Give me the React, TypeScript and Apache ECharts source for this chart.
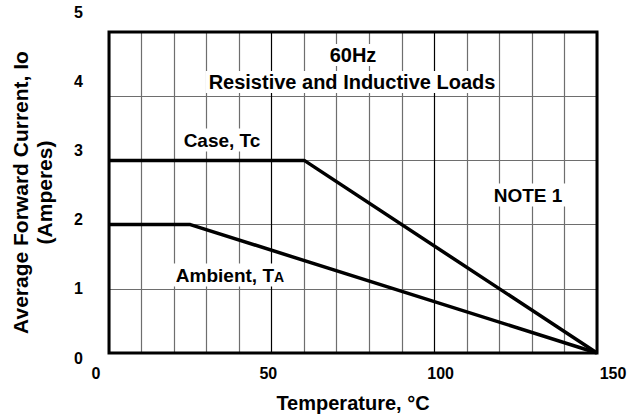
import React, { useEffect, useRef } from "react";
import * as echarts from "echarts";

const FONT = "'Liberation Sans', Arial, Helvetica, sans-serif";

// Data
const caseCurve: [number, number][] = [[0, 3], [60, 3], [150, 0]];
const ambientCurve: [number, number][] = [[0, 2], [25, 2], [150, 0]];
const xTickLabels = [0, 50, 100, 150];
const yTickLabels = [0, 1, 2, 3, 4, 5];
const xTitle = "Temperature, °C";
const yTitle = "Average Forward Current, Io\n(Amperes)";

export default function App() {
  const ref = useRef<HTMLDivElement>(null);
  useEffect(() => {
    if (!ref.current) return;
    const chart = echarts.init(ref.current, undefined, { renderer: "svg" });
    const grayLine = "#6e6e6e";
    const option: any = {
      animation: false,
      backgroundColor: "#fff",
      grid: [
        { left: 108, right: 33, top: 32, bottom: 60, show: true, borderColor: "#000", borderWidth: 3, backgroundColor: "transparent", z: 5 },
        { left: 96, right: 17, top: 12, bottom: 60 },
      ],
      xAxis: [
        {
          type: "value", gridIndex: 0, min: 0, max: 150, interval: 10,
          axisLine: { show: false }, axisTick: { show: false }, axisLabel: { show: false },
          splitLine: { show: true, lineStyle: { color: ["#000", grayLine, grayLine, grayLine, grayLine], width: 1.2 } },
          name: xTitle, nameLocation: "middle", nameGap: 40,
          nameTextStyle: { fontFamily: FONT, fontWeight: "bold", fontSize: 20, color: "#000" },
        },
        {
          type: "value", gridIndex: 1, min: 0, max: 150, interval: 50,
          axisLine: { show: false }, axisTick: { show: false }, splitLine: { show: false },
          axisLabel: {
            show: true, margin: 7, fontFamily: FONT, fontWeight: "bold", fontSize: 16, color: "#000",
            formatter: (v: number) => (xTickLabels.includes(v) ? String(v) : ""),
          },
        },
      ],
      yAxis: [
        {
          type: "value", gridIndex: 0, min: 0, max: 5, interval: 1,
          axisLine: { show: false }, axisTick: { show: false }, axisLabel: { show: false },
          splitLine: { show: true, lineStyle: { color: grayLine, width: 1.2 } },
          name: yTitle, nameLocation: "middle", nameGap: 53, nameRotate: 90,
          nameTextStyle: { fontFamily: FONT, fontWeight: "bold", fontSize: 21, color: "#000", lineHeight: 24, align: "center" },
        },
        {
          type: "value", gridIndex: 1, min: 0, max: 5, interval: 1,
          axisLine: { show: false }, axisTick: { show: false }, splitLine: { show: false },
          axisLabel: {
            show: true, margin: 13, fontFamily: FONT, fontWeight: "bold", fontSize: 16, color: "#000",
            formatter: (v: number) => (yTickLabels.includes(v) ? String(v) : ""),
          },
        },
      ],
      series: [
        {
          name: "Case, Tc", type: "line", xAxisIndex: 0, yAxisIndex: 0, data: caseCurve,
          showSymbol: false, symbol: "none", lineStyle: { color: "#000", width: 3.5 }, z: 6,
        },
        {
          name: "Ambient, TA", type: "line", xAxisIndex: 0, yAxisIndex: 0, data: ambientCurve,
          showSymbol: false, symbol: "none", lineStyle: { color: "#000", width: 3.5 }, z: 6,
        },
      ],
      graphic: [
        {
          type: "text", x: 353, y: 55, z: 10,
          style: { text: "60Hz", font: `bold 20px ${FONT}`, fill: "#000", align: "center", verticalAlign: "middle", backgroundColor: "#fff", padding: [1, 3] },
        },
        {
          type: "text", x: 352, y: 82, z: 10,
          style: { text: "Resistive and Inductive Loads", font: `bold 20px ${FONT}`, fill: "#000", align: "center", verticalAlign: "middle", backgroundColor: "#fff", padding: [1, 3] },
        },
        {
          type: "text", x: 222, y: 140, z: 10,
          style: { text: "Case, Tc", font: `bold 19px ${FONT}`, fill: "#000", align: "center", verticalAlign: "middle", backgroundColor: "#fff", padding: [2, 4] },
        },
        {
          type: "text", x: 528, y: 195, z: 10,
          style: { text: "NOTE 1", font: `bold 19px ${FONT}`, fill: "#000", align: "center", verticalAlign: "middle", backgroundColor: "#fff", padding: [2, 4] },
        },
        {
          type: "text", x: 230, y: 275, z: 10,
          style: {
            text: "{a|Ambient, T}{s|A}", align: "center", verticalAlign: "middle", backgroundColor: "#fff", padding: [2, 4],
            rich: {
              a: { fill: "#000", fontFamily: FONT, fontWeight: "bold", fontSize: 19 },
              s: { fill: "#000", fontFamily: FONT, fontWeight: "bold", fontSize: 14, verticalAlign: "bottom", padding: [0, 0, 1, 0] },
            },
          },
        },
      ],
    };
    chart.setOption(option);
    return () => chart.dispose();
  }, []);
  return <div ref={ref} style={{ width: 630, height: 418, position: "absolute", left: 0, top: 0 }} />;
}
